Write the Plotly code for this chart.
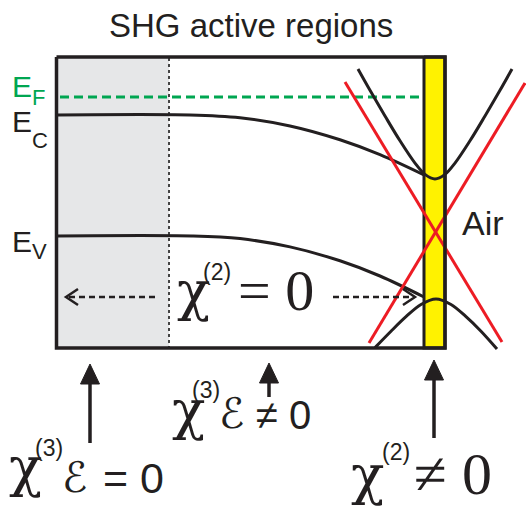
import plotly.graph_objects as go

W, H = 526, 506
INK = "#231f20"
GREEN = "#00a651"
RED = "#ed1c24"
YELLOW = "#fff200"
GRAY = "#e6e7e8"

# ---- schematic data (pixel units) ----
box_x = [56.5, 445, 445, 56.5, 56.5]
box_y = [57, 57, 348, 348, 57]
bulk_x = [56.5, 169, 169, 56.5, 56.5]
bulk_y = [57, 57, 348, 348, 57]
dotted_x = [169, 169]
dotted_y = [58, 347]
ef_x = [60, 424]
ef_y = [97, 97]
bar_x = [424, 445, 445, 424, 424]
bar_y = [57, 57, 348, 348, 57]

ec_x = [57, 190, 240, 290, 340, 380, 424]
ec_y = [115, 115, 117.8, 126, 139.8, 154.7, 175]
ev_x = [57, 192, 240, 290, 340, 380, 424]
ev_y = [236, 236, 238.6, 246.9, 260.8, 276, 297]

cb_x = [358, 370, 385, 400, 415, 425, 435, 445, 455, 470, 485, 500, 512]
cb_y = [69, 90.3, 116, 140.8, 163.1, 174.4, 179, 174.4, 163.1, 140.8, 116, 90.3, 69]
vb_x = [375, 391, 406, 421, 436, 451, 466, 481, 497]
vb_y = [347.6, 331.2, 316.7, 304.5, 299, 304.5, 316.7, 331.2, 349]

red1_x = [345, 502]
red1_y = [82, 342]
red2_x = [525, 369]
red2_y = [83, 343]

dash_left_x = [155, 68]
dash_right_x = [333, 414]
dash_y = [297, 297]
head_left_x = [78, 66, 78]
head_left_y = [289, 297, 305]
head_right_x = [403, 415, 403]
head_right_y = [289, 297, 305]

up_x = [90, 269, 434]
up_tip = [364, 363, 360]
up_base = [384, 383, 380]
up_tail = [443, 397, 438]

fig = go.Figure()

def poly(x, y, fill=None, color=INK, width=0, dash=None, shape="linear"):
    fig.add_trace(go.Scatter(
        x=x, y=y, mode="lines",
        fill="toself" if fill else "none", fillcolor=fill,
        line=dict(color=color, width=width, dash=dash, shape=shape),
        hoverinfo="skip", showlegend=False))

poly(bulk_x, bulk_y, fill=GRAY, color=GRAY, width=0)
poly(dotted_x, dotted_y, color="#444444", width=2, dash="3px,3px")
poly(ef_x, ef_y, color=GREEN, width=3, dash="9px,5px")
poly(ec_x, ec_y, color=INK, width=3, shape="spline")
poly(ev_x, ev_y, color=INK, width=3, shape="spline")
poly(bar_x, bar_y, fill=YELLOW, color=INK, width=3)
poly(red1_x, red1_y, color=RED, width=3)
poly(red2_x, red2_y, color=RED, width=3)
poly(cb_x, cb_y, color=INK, width=3, shape="spline")
poly(vb_x, vb_y, color=INK, width=3, shape="spline")
poly(box_x, box_y, color=INK, width=3.5)

poly(dash_left_x, dash_y, color=INK, width=2.5, dash="6px,4px")
poly(dash_right_x, dash_y, color=INK, width=2.5, dash="6px,4px")
poly(head_left_x, head_left_y, color=INK, width=2.5)
poly(head_right_x, head_right_y, color=INK, width=2.5)

for x, tip, base, tail in zip(up_x, up_tip, up_base, up_tail):
    poly([x, x], [base - 2, tail], color=INK, width=3.5)
    poly([x - 9.5, x, x + 9.5, x - 9.5], [base, tip, base, base], fill=INK, color=INK, width=1)

SANS = "Liberation Sans"
SERIF = "Liberation Serif"
CHI = "DejaVu Serif"
SCRIPT = "DejaVu Sans"
METRICS = {SANS: (0.905, 0.212), SERIF: (0.891, 0.216),
           CHI: (0.928, 0.236), SCRIPT: (0.928, 0.236)}

ann = []
def txt(x, base, s, size, fam, color=INK, anchor="left"):
    a, d = METRICS[fam]
    yc = base - (a - d) / 2 * size
    ann.append(dict(x=x, y=yc, xref="x", yref="y", text=s, showarrow=False,
                    xanchor=anchor, yanchor="middle", borderpad=0, borderwidth=0,
                    font=dict(family=fam, size=size, color=color)))

txt(251, 37, "SHG active regions", 33, SANS, anchor="center")
txt(12, 97, "E", 30, SANS, GREEN)
txt(32, 105, "F", 22, SANS, GREEN)
txt(12, 132, "E", 30, SANS)
txt(32, 148, "C", 22, SANS)
txt(12, 252, "E", 30, SANS)
txt(32, 259, "V", 22, SANS)
txt(462, 235, "Air", 34, SANS)

# middle chi(2) = 0
txt(177, 310, "χ", 55, CHI)
txt(203, 280, "(2)", 23, SANS)
txt(238, 310, "= 0", 58, SERIF)

# bottom-left chi(3) E = 0
txt(9, 486, "χ", 55, CHI)
txt(35, 456, "(3)", 23, SANS)
txt(62, 492, "ℰ", 42, SCRIPT)
txt(103, 493, "= 0", 43, SANS)

# middle chi(3) E != 0
txt(172, 429, "χ", 55, CHI)
txt(192, 398, "(3)", 23, SANS)
txt(219, 428, "ℰ", 42, SCRIPT)
txt(256, 429, "≠ 0", 40, SANS)

# right chi(2) != 0
txt(351, 494, "χ", 55, CHI)
txt(382, 460, "(2)", 23, SANS)
txt(414, 494, "≠ 0", 60, SERIF)

fig.update_layout(
    width=W, height=H, margin=dict(l=0, r=0, t=0, b=0),
    paper_bgcolor="white", plot_bgcolor="white",
    xaxis=dict(range=[0, W], visible=False, fixedrange=True),
    yaxis=dict(range=[H, 0], visible=False, fixedrange=True),
    annotations=ann, showlegend=False,
)

fig.write_html("out.html")
